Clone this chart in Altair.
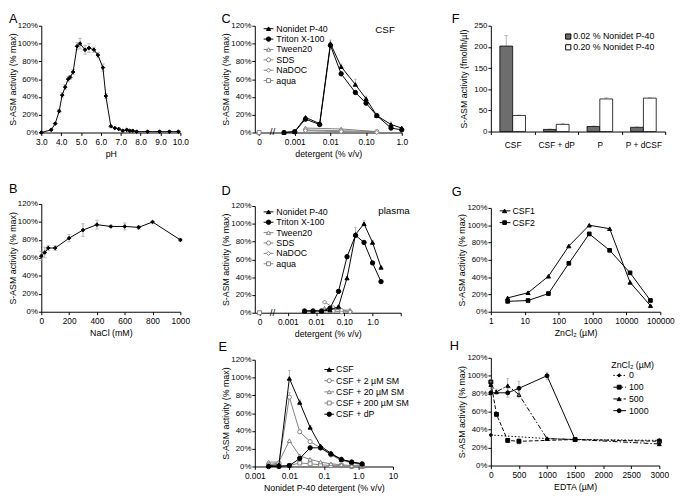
import altair as alt
import pandas as pd

FONT = "Liberation Sans"
BLACK = "#000000"
GRAY = "#808080"
ERRC = "#9b9b9b"
DARK = "#6d6d6d"
PCT_TITLE = "S-ASM activity (% max)"

# ---------------- data ----------------
# A: activity vs pH
ph = [3.0, 3.5, 3.7, 3.9, 4.05, 4.2, 4.35, 4.45, 4.6, 4.8, 4.95, 5.2, 5.4, 5.65, 5.85,
      6.1, 6.25, 6.5, 6.7, 6.9, 7.1, 7.3, 7.45, 7.6, 7.8, 8.35, 8.95, 9.45, 9.9]
ph_act = [0, 3, 10, 24, 42, 51, 60, 62, 68, 97, 100, 93, 95, 93, 87,
          73, 41, 7, 5, 4, 2, 3, 2, 2, 1, 1, 1, 1, 1]
ph_err = [0, 1, 1, 2, 3, 3, 3, 2, 3, 4, 6, 5, 5, 3, 3,
          4, 3, 1, 1, 1, 1, 1, 1, 1, 1, 1, 1, 1, 1]

# B: activity vs NaCl
nacl = [0, 25, 50, 100, 200, 300, 400, 500, 600, 700, 800, 1000]
nacl_act = [62, 66, 71, 71, 82, 91, 97, 95, 95, 94, 100, 80]
nacl_err = [5, 6, 3, 3, 4, 7, 5, 1, 4, 2, 1, 2]

# C: detergents, CSF
c_conc = [0.0005, 0.001, 0.002, 0.005, 0.01, 0.02, 0.05, 0.1, 0.2, 0.5, 1.0]
c_np40 = [0, 1, 17, 10, 100, 74, 54, 38, 19, 9, 5]
c_np40_err = [0, 0, 1, 1, 4, 3, 6, 3, 1, 3, 1]
c_triton = [0, 1, 15, 9, 98, 66, 45, 33, 19, 5, 3]
c_conc_other = [0.002, 0.02, 0.2]
c_tween = [5, 4, 1]
c_sds = [3, 2, 1]
c_nadoc = [2, 1, 0]
c_conc_aqua = [0]
c_aqua = [0]

# D: detergents, plasma
d_conc = [0.0039, 0.0078, 0.0156, 0.031, 0.0625, 0.125, 0.25, 0.5, 1.0, 2.0]
d_np40 = [2, 2, 2, 3, 7, 39, 88, 100, 79, 51]
d_np40_err = [0, 0, 0, 0, 1, 2, 8, 4, 2, 1]
d_triton = [2, 2, 2, 5, 24, 63, 87, 79, 56, 35]
d_conc_other = [0.02, 0.04, 0.08, 0.16]
d_tween = [5, 4, 3, 3]
d_sds = [3, 2, 1, 1]
d_nadoc = [12, 6, 3, 1]
d_conc_aqua = [0]
d_aqua = [0]

# E: sphingomyelin / dP, Nonidet P-40
e_conc = [0.0025, 0.005, 0.01, 0.02, 0.04, 0.08, 0.16, 0.32, 0.64, 1.28]
e_csf = [1, 2, 99, 72, 44, 23, 15, 8, 5, 3]
e_csf_err = [0, 0, 9, 3, 2, 1, 1, 1, 0, 0]
e_sm2 = [2, 4, 78, 39, 28, 21, 13, 7, 4, 2]
e_sm2_err = [0, 0, 5, 2, 1, 1, 0, 0, 0, 0]
e_sm20 = [5, 5, 29, 12, 8, 5, 3, 2, 1, 1]
e_sm200 = [1, 1, 1, 4, 3, 2, 1, 1, 0, 0]
e_dp = [0, 0, 1, 9, 21, 21, 14, 8, 5, 3]

# F: absolute activity (bars)
f_cats = ["CSF", "CSF + dP", "P", "P + dCSF"]
f_groups = ["0.02 % Nonidet P-40", "0.20 % Nonidet P-40"]
f_low = [202, 5, 12, 10]
f_low_err = [25, 1, 1, 1]
f_high = [38, 17, 77, 79]
f_high_err = [1, 2, 3, 1]

# G: ZnCl2
g_zn = [3.125, 12.5, 50, 200, 800, 3200, 12800, 51200]
g_csf1 = [16, 22, 41, 76, 100, 96, 34, 7]
g_csf2 = [12, 13, 21, 56, 90, 71, 45, 13]

# H: EDTA at several ZnCl2 levels
h_x0 = [0, 1000, 1500, 3000]
h_y0 = [34, 30, 29, 28]
h_e0 = [2, 1, 0, 2]
h_x100 = [0, 100, 300, 500, 1500, 3000]
h_y100 = [93, 57, 28, 27, 29, 27]
h_e100 = [3, 2, 2, 3, 0, 2]
h_x500 = [0, 100, 300, 500, 1000, 1500, 3000]
h_y500 = [90, 82, 89, 79, 30, 29, 24]
h_e500 = [4, 3, 8, 3, 1, 0, 2]
h_x1000 = [0, 300, 500, 1000, 1500]
h_y1000 = [81, 81, 86, 100, 29]
h_e1000 = [3, 5, 8, 4, 0]

# ---------------- helpers ----------------
ONE = pd.DataFrame({"k": [0]})


def line_kw(st):
    kw = {"color": st["col"], "strokeWidth": 1}
    if "dash" in st:
        kw["strokeDash"] = st["dash"]
    return kw


def pt_kw(st):
    return {"shape": st["shape"], "filled": True, "fill": st["fill"], "stroke": st["col"],
            "size": st["size"], "opacity": 1, "strokeWidth": 1}


def with_calc(ch, calc):
    return ch.transform_calculate(**calc) if calc else ch


def series(xs, ys, st, X, Y, calc=None):
    df = pd.DataFrame({"x": xs, "y": ys})
    out = []
    if len(xs) > 1:
        out.append(with_calc(alt.Chart(df), calc).mark_line(**line_kw(st)).encode(x=X(), y=Y("y")))
    out.append(with_calc(alt.Chart(df), calc).mark_point(**pt_kw(st)).encode(x=X(), y=Y("y")))
    return out


def errs(xs, ys, es, X, Y, calc=None, both=True, cap=4):
    df = pd.DataFrame({"x": xs, "y": ys, "e": es})
    base = with_calc(alt.Chart(df), calc).transform_filter("datum.e > 0").transform_calculate(
        lo=("max(0, datum.y - datum.e)" if both else "datum.y"), hi="datum.y + datum.e")
    out = [base.mark_rule(color=ERRC, strokeWidth=0.8).encode(x=X(), y=Y("lo"), y2="hi:Q"),
           base.mark_tick(color=ERRC, orient="horizontal", size=cap, thickness=0.8).encode(
               x=X(), y=Y("hi"))]
    if both:
        out.append(base.mark_tick(color=ERRC, orient="horizontal", size=cap, thickness=0.8).encode(
            x=X(), y=Y("lo")))
    return out


def txt(text, x, y, size=9, align="left", baseline="middle"):
    return alt.Chart(ONE).mark_text(text=text, fontSize=size, align=align, baseline=baseline,
                                    font=FONT, color=BLACK).encode(x=alt.value(x), y=alt.value(y))


def legend_entry(st, text, xl0, xl1, xm, xt, y, line=True):
    out = []
    if line:
        out.append(alt.Chart(ONE).mark_rule(**line_kw(st)).encode(
            x=alt.value(xl0), x2=alt.value(xl1), y=alt.value(y)))
    out.append(alt.Chart(ONE).mark_point(**pt_kw(st)).encode(x=alt.value(xm), y=alt.value(y)))
    out.append(txt(text, xt, y))
    return out


def panel(w, h, sp, letter, lpos, layers):
    L, T, R, B = sp
    fr = alt.Chart(ONE).mark_rect(opacity=0).encode(
        x=alt.value(-L), x2=alt.value(w + R), y=alt.value(-T), y2=alt.value(h + B))
    lt = txt(letter, lpos[0], lpos[1], size=13, baseline="top")
    return alt.layer(fr, *layers, lt).properties(width=w, height=h)


def YP(field):
    return alt.Y(field + ":Q", scale=alt.Scale(domain=[0, 120], nice=False, zero=True),
                 axis=alt.Axis(values=[0, 20, 40, 60, 80, 100, 120], labelExpr="datum.value + '%'",
                               title=PCT_TITLE, labelPadding=1, titlePadding=0, labelFontSize=8))


# styles
S_BLACK_TRI = {"col": BLACK, "shape": "triangle-up", "fill": BLACK, "size": 18}
S_BLACK_CIR = {"col": BLACK, "shape": "circle", "fill": BLACK, "size": 20}
S_BLACK_SQ = {"col": BLACK, "shape": "square", "fill": BLACK, "size": 14}
S_BLACK_DIA = {"col": BLACK, "shape": "diamond", "fill": BLACK, "size": 14}
S_OPEN_TRI = {"col": GRAY, "shape": "triangle-up", "fill": "white", "size": 18}
S_OPEN_CIR = {"col": GRAY, "shape": "circle", "fill": "white", "size": 18}
S_OPEN_DIA = {"col": GRAY, "shape": "diamond", "fill": "white", "size": 18}
S_OPEN_SQ = {"col": GRAY, "shape": "square", "fill": "white", "size": 16}

# ---------------- panel A ----------------
def XA():
    return alt.X("x:Q", scale=alt.Scale(domain=[3, 10], nice=False, zero=False),
                 axis=alt.Axis(values=[3, 4, 5, 6, 7, 8, 9, 10], format=".1f", title="pH"))

pA = panel(142, 109, (33, 13, 12, 30), "A", (-33, -13),
           errs(ph, ph_act, ph_err, XA, YP) + series(ph, ph_act, S_BLACK_DIA, XA, YP))

# ---------------- panel B ----------------
def XB():
    return alt.X("x:Q", scale=alt.Scale(domain=[0, 1000], nice=False),
                 axis=alt.Axis(values=[0, 200, 400, 600, 800, 1000], format="d", title="NaCl (mM)"))

pB = panel(142, 110, (33, 43, 12, 30), "B", (-33, -21),
           errs(nacl, nacl_act, nacl_err, XB, YP) + series(nacl, nacl_act, S_BLACK_DIA, XB, YP))

# ---------------- panels C and D (log axis with a break at 0) ----------------
LOGCALC = {"lx": "datum.x == 0 ? -4 : log(datum.x) / LN10"}

det_names = ["Nonidet P-40", "Triton X-100", "Tween20", "SDS", "NaDOC", "aqua"]
det_styles = [S_BLACK_TRI, S_BLACK_CIR, S_OPEN_TRI, S_OPEN_CIR, S_OPEN_DIA, S_OPEN_SQ]


def det_panel(w, h, sp, letter, lpos, xlo, xhi, xvals, xlabels, conc, np40, np40_err, triton,
              conc_o, tween, sds, nadoc, conc_a, aqua, tag, tagpos, leg_y0):
    expr = "[" + ",".join("'%s'" % s for s in xlabels) + "][datum.value + 4]"

    def X():
        return alt.X("lx:Q", scale=alt.Scale(domain=[xlo, xhi], nice=False, zero=False),
                     axis=alt.Axis(values=xvals, labelExpr=expr, title="detergent (% v/v)"))
    layers = []
    layers += series(conc_o, tween, S_OPEN_TRI, X, YP, LOGCALC)
    layers += series(conc_o, sds, S_OPEN_CIR, X, YP, LOGCALC)
    layers += series(conc_o, nadoc, S_OPEN_DIA, X, YP, LOGCALC)
    layers += series(conc_a, aqua, S_OPEN_SQ, X, YP, LOGCALC)
    layers += errs(conc, np40, np40_err, X, YP, LOGCALC, both=False, cap=3)
    layers += series(conc, triton, S_BLACK_CIR, X, YP, LOGCALC)
    layers += series(conc, np40, S_BLACK_TRI, X, YP, LOGCALC)
    for i, (n, st) in enumerate(zip(det_names, det_styles)):
        layers += legend_entry(st, n, 9, 19, 14, 22, leg_y0 + i * 10.6)
    layers.append(txt(tag, tagpos[0], tagpos[1], size=10))
    layers.append(txt("//", 18, h, size=10, align="center"))
    return panel(w, h, sp, letter, lpos, layers)


pC = det_panel(150, 109, (59, 13, 16, 30), "C", (-34, -13), -4.12, 0,
               [-4, -3, -2, -1, 0], ["0", "0.001", "0.01", "0.10", "1.0"],
               c_conc, c_np40, c_np40_err, c_triton, c_conc_other, c_tween, c_sds, c_nadoc,
               c_conc_aqua, c_aqua, "CSF", (123, 4), 3)

pD = det_panel(149, 109, (59, 45, 17, 25), "D", (-34, -21), -4.17, 1,
               [-4, -3, -2, -1, 0, 1], ["0", "0.001", "0.01", "0.10", "1.0", ""],
               d_conc, d_np40, d_np40_err, d_triton, d_conc_other, d_tween, d_sds, d_nadoc,
               d_conc_aqua, d_aqua, "plasma", (126, 5), 6)

# ---------------- panel E ----------------
def XE():
    expr = ("datum.value >= 10 ? '10' : datum.value >= 1 ? '1.0' : datum.value >= 0.1 ? '0.1' : "
            "datum.value >= 0.01 ? '0.01' : '0.001'")
    return alt.X("x:Q", scale=alt.Scale(type="log", domain=[0.001, 10], nice=False),
                 axis=alt.Axis(values=[0.001, 0.01, 0.1, 1, 10], labelExpr=expr,
                               title="Nonidet P-40 detergent (% v/v)"))

e_names = ["CSF", "CSF + 2 µM SM", "CSF + 20 µM SM", "CSF + 200 µM SM", "CSF + dP"]
e_styles = [S_BLACK_TRI, S_OPEN_CIR, S_OPEN_TRI, S_OPEN_SQ, S_BLACK_CIR]
lay_e = []
lay_e += series(e_conc, e_sm200, S_OPEN_SQ, XE, YP)
lay_e += series(e_conc, e_sm20, S_OPEN_TRI, XE, YP)
lay_e += errs(e_conc, e_sm2, e_sm2_err, XE, YP, both=False, cap=3)
lay_e += series(e_conc, e_sm2, S_OPEN_CIR, XE, YP)
lay_e += errs(e_conc, e_csf, e_csf_err, XE, YP, both=False, cap=3)
lay_e += series(e_conc, e_csf, S_BLACK_TRI, XE, YP)
lay_e += series(e_conc, e_dp, S_BLACK_CIR, XE, YP)
for i, (n, st) in enumerate(zip(e_names, e_styles)):
    lay_e += legend_entry(st, n, 71, 81, 76, 83, 10 + i * 11.4)
pE = panel(141, 109, (64, 22, 20, 22), "E", (-37, -19), lay_e)

# ---------------- panel F ----------------
dfF = pd.DataFrame({"cat": f_cats * 2,
                    "grp": [f_groups[0]] * 4 + [f_groups[1]] * 4,
                    "v": f_low + f_high,
                    "e": f_low_err + f_high_err})


def XF():
    return alt.X("cat:N", sort=f_cats, scale=alt.Scale(paddingInner=0, paddingOuter=0),
                 axis=alt.Axis(tickBand="extent", labelAngle=0, title=None, labelPadding=6))


def YF(field):
    return alt.Y(field + ":Q", scale=alt.Scale(domain=[0, 250], nice=False),
                 axis=alt.Axis(values=[0, 50, 100, 150, 200, 250], title="S-ASM activity (fmol/h/µl)",
                               labelPadding=1, titlePadding=6, labelFontSize=8))


XOF = alt.XOffset("grp:N", sort=f_groups, scale=alt.Scale(paddingInner=0, paddingOuter=0.7))
barsF = alt.Chart(dfF).mark_bar(stroke=BLACK, strokeWidth=0.8).encode(
    x=XF(), xOffset=XOF, y=YF("v"),
    fill=alt.Fill("grp:N", scale=alt.Scale(domain=f_groups, range=[DARK, "white"]), legend=None))
errF_base = alt.Chart(dfF).transform_calculate(hi="datum.v + datum.e")
errF = [errF_base.mark_rule(color=ERRC, strokeWidth=0.8).encode(
            x=XF(), xOffset=XOF, y=YF("v"), y2="hi:Q"),
        errF_base.mark_tick(color=ERRC, orient="horizontal", size=4, thickness=0.8).encode(
            x=XF(), xOffset=XOF, y=YF("hi"))]
S_F1 = {"col": BLACK, "shape": "square", "fill": DARK, "size": 28}
S_F2 = {"col": BLACK, "shape": "square", "fill": "white", "size": 28}
legF = (legend_entry(S_F1, f_groups[0], 0, 0, 79, 84, 11, line=False)
        + legend_entry(S_F2, f_groups[1], 0, 0, 79, 84, 22, line=False))
pF = panel(178, 108, (72, 13, 5, 30), "F", (-40, -13), errF + [barsF] + legF)

# ---------------- panel G ----------------
def XG():
    return alt.X("x:Q", scale=alt.Scale(type="log", domain=[1, 100000], nice=False),
                 axis=alt.Axis(values=[1, 10, 100, 1000, 10000, 100000], format="d", title="ZnCl₂ (µM)"))

lay_g = series(g_zn, g_csf2, S_BLACK_SQ, XG, YP) + series(g_zn, g_csf1, S_BLACK_TRI, XG, YP)
lay_g += legend_entry(S_BLACK_TRI, "CSF1", 9, 20, 14, 22, 3)
lay_g += legend_entry(S_BLACK_SQ, "CSF2", 9, 20, 14, 22, 15)
pG = panel(173, 106, (73, 48, 10, 26), "G", (-40, -22), lay_g)

# ---------------- panel H ----------------
def XH():
    return alt.X("x:Q", scale=alt.Scale(domain=[0, 3000], nice=False),
                 axis=alt.Axis(values=[0, 500, 1000, 1500, 2000, 2500, 3000], format="d",
                               title="EDTA (µM)"))

S_H0 = {"col": BLACK, "shape": "diamond", "fill": BLACK, "size": 12, "dash": [1.5, 2]}
S_H100 = {"col": BLACK, "shape": "square", "fill": BLACK, "size": 16, "dash": [4, 2]}
S_H500 = {"col": BLACK, "shape": "triangle-up", "fill": BLACK, "size": 16, "dash": [5, 2, 1.5, 2]}
S_H1000 = {"col": BLACK, "shape": "circle", "fill": BLACK, "size": 16}
lay_h = []
for xs, ys, es, st in [(h_x0, h_y0, h_e0, S_H0), (h_x100, h_y100, h_e100, S_H100),
                       (h_x500, h_y500, h_e500, S_H500), (h_x1000, h_y1000, h_e1000, S_H1000)]:
    lay_h += errs(xs, ys, es, XH, YP, cap=3)
    lay_h += series(xs, ys, st, XH, YP)
lay_h.append(txt("ZnCl₂ (µM)", 123, 7))
for i, (n, st) in enumerate(zip(["0", "100", "500", "1000"], [S_H0, S_H100, S_H500, S_H1000])):
    lay_h += legend_entry(st, n, 125, 138, 131, 141, 18 + i * 12)
pH = panel(172, 110, (75, 21, 11, 22), "H", (-42, -18), lay_h)

# ---------------- layout ----------------
col1 = alt.concat(pA, pB, columns=1, spacing=0, align="none")
col2 = alt.concat(pC, pD, pE, columns=1, spacing=0, align="none")
col3 = alt.concat(pF, pG, pH, columns=1, spacing=0, align="none")

chart = alt.hconcat(col1, col2, col3, spacing=0).properties(padding=0).configure_axis(
    labelFont=FONT, titleFont=FONT, labelFontSize=8.5, titleFontSize=9, titleFontWeight="normal",
    labelColor=BLACK, titleColor=BLACK, domainColor=BLACK, tickColor=BLACK, tickSize=3,
    labelPadding=2.5, titlePadding=3, grid=False, labelFlush=False, labelOverlap=False,
    domainWidth=1, tickWidth=1
).configure_view(stroke=None).configure_text(font=FONT)

chart.save("out.html", embed_options={"renderer": "svg", "actions": False})
